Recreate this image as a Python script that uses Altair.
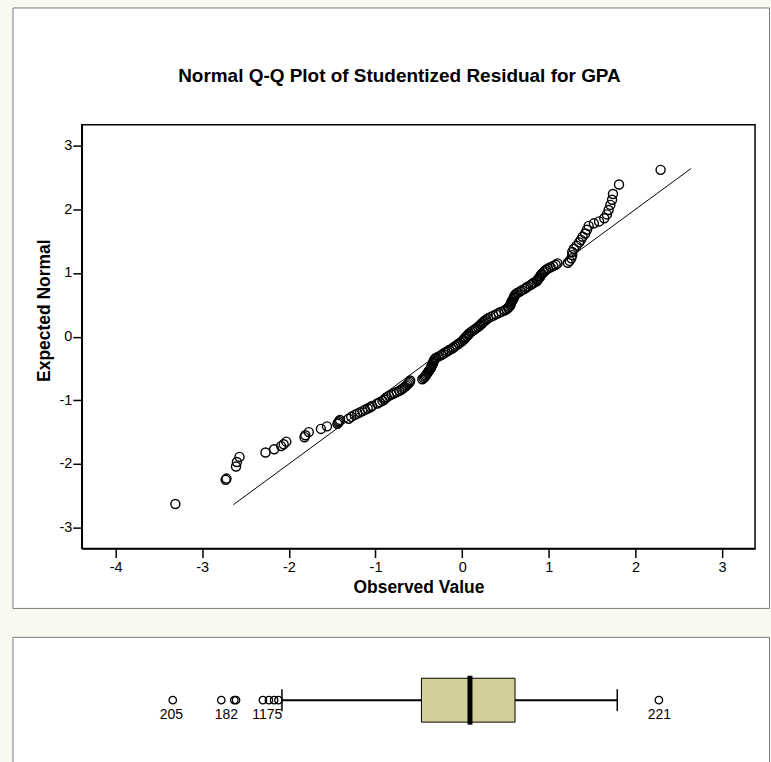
import altair as alt
import pandas as pd

FONT = "Liberation Sans"

# ---- Normal Q-Q data (observed studentized residual, expected normal value)
obs = [-3.31, -2.73, -2.72, -2.61, -2.60, -2.57, -2.27, -2.17, -2.09, -2.06, -2.03,
       -1.82, -1.81, -1.77, -1.63, -1.56, -1.44, -1.43, -1.42, -1.41,
       -1.31, -1.28, -1.24, -1.21, -1.18, -1.15, -1.12, -1.09, -1.06, -1.04,
       -0.98, -0.95,
       -0.92, -0.90, -0.885, -0.87, -0.845, -0.815, -0.785, -0.755, -0.725, -0.70,
       -0.68, -0.66, -0.645, -0.63, -0.615, -0.605, -0.60,
       -0.46, -0.445, -0.43, -0.42, -0.41, -0.40, -0.39, -0.38, -0.37, -0.36,
       -0.355, -0.35, -0.34, -0.335, -0.33, -0.325, -0.315, -0.30, -0.27, -0.24,
       -0.22, -0.195, -0.17, -0.15, -0.12, -0.10, -0.08, -0.06, -0.04, -0.02,
       0.00, 0.015, 0.03, 0.04, 0.055, 0.07, 0.08, 0.10, 0.12, 0.14,
       0.16, 0.18, 0.20, 0.215, 0.23, 0.245, 0.26, 0.28, 0.30, 0.33,
       0.36, 0.39, 0.42, 0.45, 0.49, 0.51, 0.53, 0.54, 0.555, 0.56,
       0.565, 0.57, 0.58, 0.59, 0.595, 0.60, 0.61, 0.62, 0.64, 0.67,
       0.69, 0.72, 0.74, 0.76, 0.79, 0.81, 0.83, 0.86, 0.87, 0.88,
       0.895, 0.90, 0.91, 0.92, 0.94, 0.95, 0.97, 0.99, 1.02, 1.05,
       1.08, 1.10,
       1.22, 1.24, 1.26, 1.27, 1.27, 1.29, 1.32, 1.35, 1.37, 1.39, 1.42,
       1.44, 1.46, 1.52, 1.58, 1.64, 1.67, 1.69, 1.71, 1.73, 1.74, 1.81, 2.29]
expected = [-2.63, -2.25, -2.23, -2.04, -1.97, -1.89, -1.82, -1.77, -1.72, -1.69, -1.65,
            -1.58, -1.55, -1.50, -1.45, -1.41, -1.37, -1.35, -1.33, -1.31,
            -1.29, -1.26, -1.23, -1.21, -1.19, -1.17, -1.15, -1.13, -1.11, -1.09,
            -1.05, -1.03,
            -1.01, -0.99, -0.97, -0.95, -0.93, -0.91, -0.89, -0.87, -0.85, -0.83,
            -0.81, -0.79, -0.77, -0.75, -0.73, -0.71, -0.69,
            -0.67, -0.65, -0.63, -0.61, -0.59, -0.57, -0.55, -0.53, -0.51, -0.49,
            -0.47, -0.45, -0.43, -0.41, -0.39, -0.37, -0.35, -0.33, -0.31, -0.29,
            -0.27, -0.25, -0.23, -0.21, -0.19, -0.17, -0.15, -0.13, -0.11, -0.09,
            -0.07, -0.05, -0.03, -0.01, 0.01, 0.03, 0.05, 0.07, 0.09, 0.11,
            0.13, 0.15, 0.17, 0.19, 0.21, 0.23, 0.25, 0.27, 0.29, 0.31,
            0.33, 0.35, 0.37, 0.39, 0.41, 0.43, 0.45, 0.47, 0.49, 0.51,
            0.53, 0.55, 0.57, 0.59, 0.61, 0.63, 0.65, 0.67, 0.69, 0.71,
            0.73, 0.75, 0.77, 0.79, 0.81, 0.83, 0.85, 0.87, 0.89, 0.91,
            0.93, 0.95, 0.97, 0.99, 1.01, 1.03, 1.05, 1.07, 1.09, 1.11,
            1.13, 1.15,
            1.16, 1.19, 1.23, 1.28, 1.33, 1.38, 1.43, 1.48, 1.52, 1.57, 1.62,
            1.68, 1.74, 1.78, 1.81, 1.86, 1.92, 1.99, 2.07, 2.15, 2.24, 2.39, 2.62]

# reference line (expected = observed)
line_x = [-2.64, 2.64]
line_y = [-2.64, 2.64]

x_ticks = [-4, -3, -2, -1, 0, 1, 2, 3]
y_ticks = [-3, -2, -1, 0, 1, 2, 3]

# ---- Box plot summary of the same residuals
whisker_low = -2.08
q1 = -0.47
median = 0.09
q3 = 0.61
whisker_high = 1.79
outlier_values = [-3.34, -2.78, -2.63, -2.61, -2.30, -2.23, -2.17, -2.12, 2.27]
label_values = [-3.355, -2.72, -2.25, 2.275]
label_texts = ["205", "182", "1175", "221"]

X_DOMAIN = [-4.39, 3.38]
Y_DOMAIN = [-3.33, 3.33]

qq_df = pd.DataFrame({"obs": obs, "exp": expected})
line_df = pd.DataFrame({"obs": line_x, "exp": line_y})
panel_df = pd.DataFrame({"p": [1]})

xs = alt.Scale(domain=X_DOMAIN, nice=False, zero=False)
ys = alt.Scale(domain=Y_DOMAIN, nice=False, zero=False)

x_axis = alt.Axis(values=x_ticks, title="Observed Value", grid=False, tickSize=9,
                  tickColor="black", tickWidth=1.5, domainColor="black", domainWidth=1.5,
                  labelExpr="'' + datum.value",
                  labelPadding=3, labelFontSize=14.5, labelColor="black", labelFont=FONT,
                  titleFontSize=17.5, titleFont=FONT, titleFontWeight="bold",
                  titleColor="black", titlePadding=5, zindex=2)
y_axis = alt.Axis(values=y_ticks, title="Expected Normal", grid=False, tickSize=9,
                  tickColor="black", tickWidth=1.5, domainColor="black", domainWidth=1.5,
                  labelExpr="'' + datum.value",
                  labelPadding=1, labelFontSize=14.5, labelColor="black", labelFont=FONT,
                  titleFontSize=17.5, titleFont=FONT, titleFontWeight="bold",
                  titleColor="black", titlePadding=5, titleY=186, zindex=2)

panel1 = alt.Chart(panel_df).mark_rect(fill="white", stroke="#7a7a7a", strokeWidth=1).encode(
    x=alt.value(-69), x2=alt.value(689.5), y=alt.value(-117), y2=alt.value(485))

frame1 = alt.Chart(panel_df).mark_rect(fillOpacity=0, stroke="black", strokeWidth=1.5).encode(
    x=alt.value(0), x2=alt.value(675), y=alt.value(0), y2=alt.value(425))

ref_line = alt.Chart(line_df).mark_line(color="black", strokeWidth=1).encode(
    x=alt.X("obs:Q", scale=xs, axis=x_axis),
    y=alt.Y("exp:Q", scale=ys, axis=y_axis))

pts = alt.Chart(qq_df).mark_point(shape="circle", filled=False, color="black",
                                  size=82, strokeWidth=1.4, opacity=1).encode(
    x=alt.X("obs:Q", scale=xs, axis=x_axis),
    y=alt.Y("exp:Q", scale=ys, axis=y_axis))

qq = alt.layer(panel1, frame1, ref_line, pts).properties(
    width=675, height=425,
    title=alt.Title("Normal Q-Q Plot of Studentized Residual for GPA", frame="group",
                    anchor="middle", offset=-79, dx=-19, fontSize=19, fontWeight="bold",
                    font=FONT, color="black"),
    view=alt.ViewBackground(stroke="transparent"))

# ---- box plot
box_stats = pd.DataFrame({"grp": ["r"], "wlo": [whisker_low], "q1": [q1], "med": [median],
                          "q3": [q3], "whi": [whisker_high]})
out_df = pd.DataFrame({"grp": ["r"] * len(outlier_values), "v": outlier_values})
lab_df = pd.DataFrame({"grp": ["r"] * len(label_values), "v": label_values, "t": label_texts})

bx = alt.Scale(domain=X_DOMAIN, nice=False, zero=False)
by = alt.Scale(type="point", padding=0.5)
Y = alt.Y("grp:N", scale=by, axis=None)

panel2 = alt.Chart(panel_df).mark_rect(fill="white", stroke="#7a7a7a", strokeWidth=1).encode(
    x=alt.value(-69), x2=alt.value(689.5), y=alt.value(-33), y2=alt.value(100))

wl = alt.Chart(box_stats).mark_rule(color="black", strokeWidth=2).encode(
    x=alt.X("wlo:Q", scale=bx, axis=None), x2="q1:Q", y=Y)
wh = alt.Chart(box_stats).mark_rule(color="black", strokeWidth=2).encode(
    x=alt.X("q3:Q", scale=bx, axis=None), x2="whi:Q", y=Y)
box = alt.Chart(box_stats).mark_bar(fill="#d4cf99", stroke="black", strokeWidth=1, size=44).encode(
    x=alt.X("q1:Q", scale=bx, axis=None), x2="q3:Q", y=Y)
med = alt.Chart(box_stats).mark_tick(color="black", thickness=5, size=49, opacity=1).encode(
    x=alt.X("med:Q", scale=bx, axis=None), y=Y)
cap_lo = alt.Chart(box_stats).mark_tick(color="black", thickness=1.5, size=22, opacity=1).encode(
    x=alt.X("wlo:Q", scale=bx, axis=None), y=Y)
cap_hi = alt.Chart(box_stats).mark_tick(color="black", thickness=1.5, size=22, opacity=1).encode(
    x=alt.X("whi:Q", scale=bx, axis=None), y=Y)
outs = alt.Chart(out_df).mark_point(shape="circle", filled=False, color="black", size=56,
                                    strokeWidth=1.3, opacity=1).encode(
    x=alt.X("v:Q", scale=bx, axis=None), y=Y)
labs = alt.Chart(lab_df).mark_text(fontSize=14, font=FONT, color="black", dy=15,
                                   baseline="middle").encode(
    x=alt.X("v:Q", scale=bx, axis=None), y=Y, text="t:N")

boxplot = alt.layer(panel2, wl, wh, box, med, cap_lo, cap_hi, outs, labs).properties(
    width=675, height=60, view=alt.ViewBackground(stroke="transparent"))

chart = alt.vconcat(qq, boxplot, spacing=27).properties(
    padding={"left": 12, "top": 6, "right": 0, "bottom": 0}
).configure(background="#f8f9f0", font=FONT)

chart.save("out.html", embed_options={"renderer": "svg", "actions": False})
